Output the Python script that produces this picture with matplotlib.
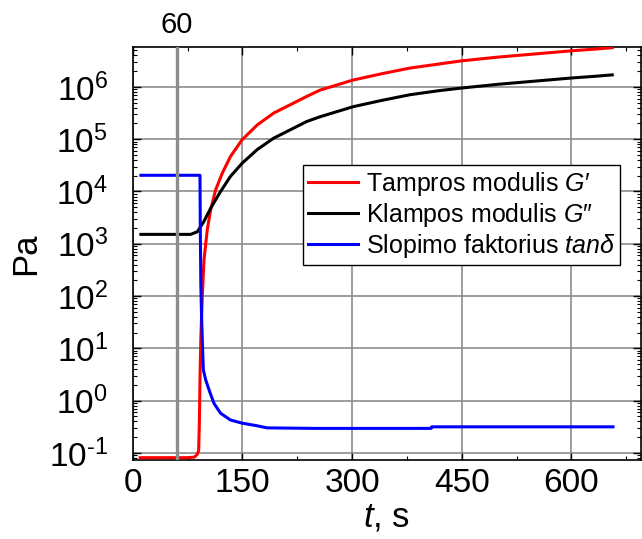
import numpy as np
import matplotlib
matplotlib.use("Agg")
import matplotlib.pyplot as plt
from matplotlib.ticker import LogLocator, MultipleLocator, NullFormatter, FuncFormatter

plt.rcParams['font.family'] = ['Liberation Sans', 'DejaVu Sans']
plt.rcParams['mathtext.fontset'] = 'custom'
plt.rcParams['mathtext.rm'] = 'Liberation Sans'
plt.rcParams['mathtext.it'] = 'Liberation Sans:italic'
plt.rcParams['mathtext.default'] = 'regular'
plt.rcParams['axes.unicode_minus'] = False

# Duomenys (nuskaityti nuo grafiko), reikšmės kaip log10(Pa)
t_gp = [10, 50, 75, 84, 88, 90, 91, 92, 93, 95, 97.3, 101.8, 106.4, 113.2,
        122.3, 133.6, 149.5, 170, 192.7, 215.5, 238.2, 256.4, 280, 301, 340,
        379, 420, 451, 500, 550, 600, 630, 656]
log_gp = [-1.09, -1.09, -1.09, -1.08, -1.03, -0.95, -0.4, 0.56, 1.2, 2.0,
          2.69, 3.27, 3.65, 4.03, 4.35, 4.67, 4.99, 5.27, 5.50, 5.66, 5.82,
          5.94, 6.04, 6.13, 6.25, 6.36, 6.44, 6.50, 6.57, 6.63, 6.69, 6.72,
          6.75]

t_gpp = [11, 50, 79, 88.2, 97.3, 106.4, 120, 133.6, 149.5, 170, 192.7, 215.5,
         238.2, 256.4, 280, 301, 340, 379, 420, 451, 500, 550, 600, 630, 656]
log_gpp = [3.18, 3.18, 3.18, 3.23, 3.43, 3.68, 4.0, 4.29, 4.54, 4.80, 5.02,
           5.18, 5.34, 5.43, 5.53, 5.62, 5.74, 5.85, 5.93, 5.98, 6.05, 6.11,
           6.17, 6.20, 6.23]

t_tan = [11, 50, 91.8, 92.3, 93, 94, 95, 96.4, 99.6, 104.1, 110.9, 120,
         133.6, 149.5, 170, 183.6, 250, 350, 408, 409, 500, 600, 657]
log_tan = [4.31, 4.31, 4.31, 3.2, 2.2, 1.6, 1.16, 0.59, 0.40, 0.21, -0.05,
           -0.24, -0.37, -0.43, -0.48, -0.52, -0.53, -0.53, -0.53, -0.50,
           -0.50, -0.50, -0.50]

gel_t = 60

labels = ["Tampros modulis $\\mathit{G}$\u2032",
          "Klampos modulis $\\mathit{G}$\u2033",
          "Slopimo faktorius $\\mathit{tan\\delta}$"]


def dec_label(v, pos):
    e = int(round(np.log10(v)))
    if e < 0:
        return "$10^{\\text{-}%d}$" % (-e)
    return "$10^{%d}$" % e


fig = plt.figure(figsize=(6.42, 5.39), dpi=100)
ax = fig.add_axes([0.207, 0.1466, 0.791, 0.7664])

ax.plot(t_gp, 10 ** np.array(log_gp), color='#ff0000', lw=2.2, label=labels[0], zorder=3)
ax.plot(t_gpp, 10 ** np.array(log_gpp), color='black', lw=2.2, label=labels[1], zorder=3)
ax.plot(t_tan, 10 ** np.array(log_tan), color='#0000ff', lw=2.2, label=labels[2], zorder=3)
ax.axvline(gel_t, color='#8c8c8c', lw=2.4, zorder=4)

ax.set_yscale('log')
ax.set_xlim(0, 695)
ax.set_ylim(10 ** -1.134, 10 ** 6.765)

ax.xaxis.set_major_locator(MultipleLocator(150))
ax.xaxis.set_minor_locator(MultipleLocator(75))
ax.yaxis.set_major_locator(LogLocator(base=10, numticks=20))
ax.yaxis.set_major_formatter(FuncFormatter(dec_label))
ax.yaxis.set_minor_locator(LogLocator(base=10, subs=np.arange(2, 10), numticks=20))
ax.yaxis.set_minor_formatter(NullFormatter())

ax.grid(True, which='major', color='#8c8c8c', lw=1.2, zorder=0)
ax.set_axisbelow(True)
ax.tick_params(which='both', direction='in', top=True, right=True, labelsize=24,
               color='black')
ax.tick_params(which='major', length=6, width=1)
ax.tick_params(which='minor', length=3, width=0.8)
ax.tick_params(axis='x', which='major', pad=6)
ax.tick_params(axis='y', which='major', pad=18)
for s in ax.spines.values():
    s.set_linewidth(1.2)

ax.set_xlabel('$\\mathit{t}$, s', fontsize=25, labelpad=1)
ax.set_ylabel('Pa', fontsize=25, labelpad=5)

top = ax.secondary_xaxis('top')
top.set_xticks([gel_t])
top.set_xticklabels([str(gel_t)])
top.tick_params(direction='in', length=4, labelsize=21, pad=6)
top.spines['top'].set_visible(False)

leg = ax.legend(loc='upper left', bbox_to_anchor=(0.335, 0.714), borderaxespad=0,
                fontsize=18, frameon=True, fancybox=False, framealpha=1,
                edgecolor='black', handlelength=2.0, handletextpad=0.3,
                labelspacing=0.12, borderpad=0.2)
leg.get_frame().set_linewidth(1.0)

fig.savefig('out.png', dpi=100)
